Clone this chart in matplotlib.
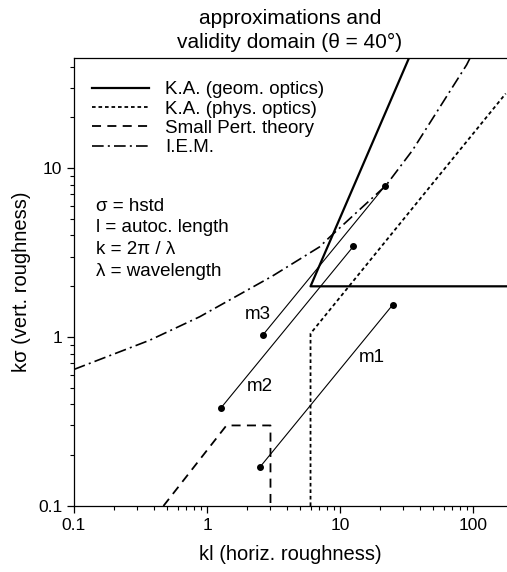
import numpy as np
import matplotlib
matplotlib.use("Agg")
import matplotlib.pyplot as plt

plt.rcParams['font.family'] = ['Liberation Sans', 'DejaVu Sans']

# K.A. geometric optics (solid): slanted edge then horizontal floor
geom_kl = [33.0, 6.0, 180.0]
geom_ks = [45.0, 2.0, 2.0]

# K.A. physical optics (dotted): vertical at kl=6 then diagonal
phys_kl = [6.0, 6.0, 176.0]
phys_ks = [0.1, 1.05, 27.7]

# Small perturbation theory (dashed)
spm_kl = [0.47, 1.4, 3.0, 3.0]
spm_ks = [0.1, 0.3, 0.3, 0.1]

# I.E.M. (dash-dot)
iem_kl = [0.1, 0.372, 0.88, 3.1, 7.0, 8.3, 22.2, 35.1, 89.5, 95.0]
iem_ks = [0.644, 0.96, 1.32, 2.3, 3.42, 3.89, 7.93, 12.8, 41.0, 45.0]

# measurements m1..m3 (start, end)
meas_names = ['m1', 'm2', 'm3']
meas_kl = [[2.5, 25.0], [1.27, 12.6], [2.63, 21.9]]
meas_ks = [[0.17, 1.56], [0.38, 3.45], [1.03, 7.9]]
label_kl = [17.4, 2.49, 2.41]
label_ks = [0.755, 0.508, 1.37]

notes = ['σ = hstd', 'l = autoc. length', 'k = 2π / λ', 'λ = wavelength']

fig = plt.figure(figsize=(5.07, 5.72), dpi=100)
ax = fig.add_axes([74 / 507, 1 - 506 / 572, 1 - 74 / 507, (506 - 58) / 572])

ax.plot(geom_kl, geom_ks, color='black', lw=1.6, label='K.A. (geom. optics)')
ax.plot(phys_kl, phys_ks, color='black', lw=1.3, linestyle=(0, (2, 1.6)),
        label='K.A. (phys. optics)')
ax.plot(spm_kl, spm_ks, color='black', lw=1.3, linestyle=(0, (5, 3.5)),
        label='Small Pert. theory')
ax.plot(iem_kl, iem_ks, color='black', lw=1.2, linestyle=(0, (7, 2.5, 1.2, 2.5)),
        label='I.E.M.')

for i in range(3):
    ax.plot(meas_kl[i], meas_ks[i], color='black', lw=0.8, marker='o', ms=4)
    ax.text(label_kl[i], label_ks[i], meas_names[i], fontsize=13.5,
            ha='center', va='center')

ax.set_xscale('log')
ax.set_yscale('log')
ax.set_xlim(0.1, 180)
ax.set_ylim(0.1, 45)
ax.set_xticks([0.1, 1, 10, 100])
ax.set_xticklabels(['0.1', '1', '10', '100'])
ax.set_yticks([0.1, 1, 10])
ax.set_yticklabels(['0.1', '1', '10'])
ax.tick_params(which='major', length=5, width=0.9, labelsize=12.5)
ax.tick_params(which='minor', length=3, width=0.8)
ax.spines['right'].set_visible(False)
for s in ['left', 'bottom', 'top']:
    ax.spines[s].set_linewidth(0.9)

ax.set_xlabel('kl (horiz. roughness)', fontsize=14.5, labelpad=9)
ax.set_ylabel('kσ (vert. roughness)', fontsize=14.5, labelpad=5)

leg = ax.legend(loc='upper left', bbox_to_anchor=(0.025, 0.965), frameon=False,
                fontsize=13.5, handlelength=3.0, handletextpad=0.9,
                labelspacing=0.12, borderaxespad=0)

for i, t in enumerate(notes):
    fig.text(96 / 507, 1 - (206 + 21.7 * i) / 572, t, fontsize=13.5, va='center')

fig.text(290 / 507, 1 - 18 / 572, 'approximations and', fontsize=15,
         ha='center', va='center')
fig.text(290 / 507, 1 - 42 / 572, 'validity domain (θ = 40°)', fontsize=15,
         ha='center', va='center')

fig.savefig('out.png', dpi=100)
